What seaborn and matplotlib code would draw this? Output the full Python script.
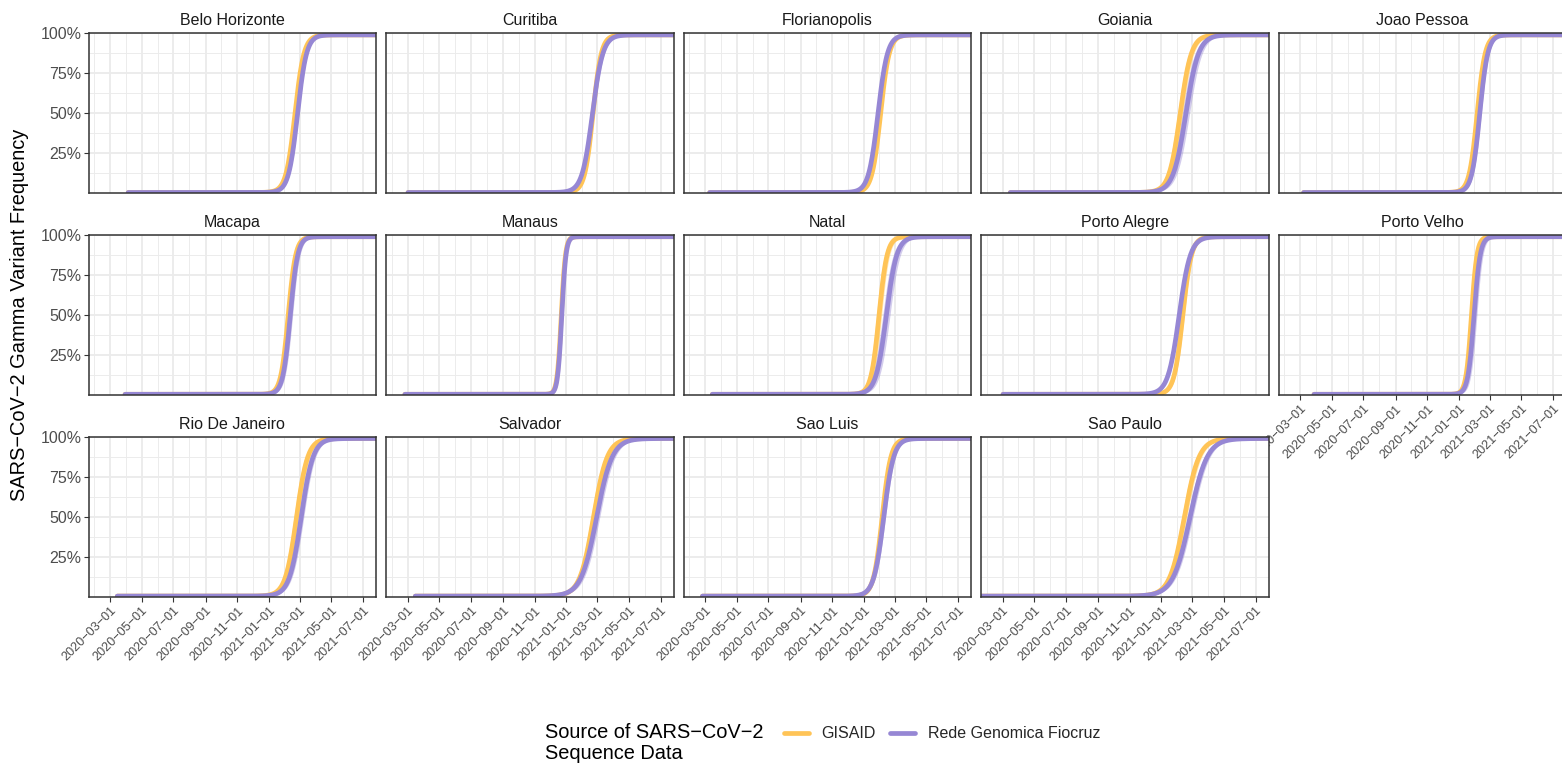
import numpy as np
import pandas as pd
import matplotlib
matplotlib.use("Agg")
import matplotlib.pyplot as plt
import matplotlib.dates as mdates
from matplotlib.ticker import FixedLocator, FixedFormatter, NullFormatter
from matplotlib.lines import Line2D
import seaborn as sns

# ---------------------------------------------------------------- data
cities = ["Belo Horizonte", "Curitiba", "Florianopolis", "Goiania", "Joao Pessoa",
          "Macapa", "Manaus", "Natal", "Porto Alegre", "Porto Velho",
          "Rio De Janeiro", "Salvador", "Sao Luis", "Sao Paulo"]

# first day of each city's fitted series
series_start = ["2020-04-05", "2020-03-02", "2020-03-10", "2020-03-16", "2020-03-08",
                "2020-03-30", "2020-02-25", "2020-03-15", "2020-03-02", "2020-03-28",
                "2020-03-15", "2020-03-16", "2020-02-25", "2020-01-20"]

# logistic fits: date at which Gamma reaches 50 %, daily growth rate,
# and half-width (days) of the uncertainty band
gisaid_mid = ["2021-02-20", "2021-02-21", "2021-02-02", "2021-02-06", "2021-02-05",
              "2021-02-07", "2020-12-22", "2021-01-30", "2021-02-11", "2021-01-25",
              "2021-02-23", "2021-02-22", "2021-02-05", "2021-02-14"]
gisaid_rate = [0.115, 0.125, 0.12, 0.093, 0.13,
               0.14, 0.25, 0.13, 0.12, 0.19,
               0.093, 0.076, 0.12, 0.071]
gisaid_spread = [2.5, 2.5, 2.0, 5.0, 2.5,
                 3.0, 1.2, 5.0, 3.0, 3.0,
                 5.0, 5.0, 3.0, 5.0]

rede_mid = ["2021-02-25", "2021-02-20", "2021-01-28", "2021-02-17", "2021-02-10",
            "2021-02-11", "2020-12-23", "2021-02-13", "2021-02-04", "2021-01-30",
            "2021-03-04", "2021-02-28", "2021-02-08", "2021-02-25"]
rede_rate = [0.115, 0.10, 0.11, 0.082, 0.13,
             0.14, 0.25, 0.10, 0.093, 0.17,
             0.088, 0.067, 0.105, 0.061]
rede_spread = [2.5, 3.0, 2.0, 7.0, 3.0,
               4.5, 1.2, 7.0, 2.5, 5.5,
               5.0, 6.0, 3.5, 5.5]

sources = ["GISAID", "Rede Genomica Fiocruz"]
line_colors = ["#FFC457", "#9687D4"]
band_colors = ["#FFC457", "#9687D4"]

x_window = ["2020-01-20", "2021-07-26"]
x_breaks = ["2020-03-01", "2020-05-01", "2020-07-01", "2020-09-01", "2020-11-01",
            "2021-01-01", "2021-03-01", "2021-05-01", "2021-07-01"]
x_labels = [b.replace("-", "\u2212") for b in x_breaks]
y_breaks = [0.25, 0.50, 0.75, 1.00]
y_labels = ["25%", "50%", "75%", "100%"]
y_minor = [0.125, 0.375, 0.625, 0.875]
floor_level, ceiling_level = 0.005, 0.99

y_title = "SARS\u2212CoV\u22122 Gamma Variant Frequency"
legend_title = ["Source of SARS\u2212CoV\u22122", "Sequence Data"]


def logistic(days, mid, rate):
    return floor_level + (ceiling_level - floor_level) / (1.0 + np.exp(-rate * (days - mid)))


# long table: one row per city / source / day
rows = []
end = pd.Timestamp(x_window[1])
for i, city in enumerate(cities):
    dates = pd.date_range(series_start[i], end, freq="D")
    days = (dates - pd.Timestamp("2021-01-01")).days.values.astype(float)
    fits = [(gisaid_mid[i], gisaid_rate[i], gisaid_spread[i]),
            (rede_mid[i], rede_rate[i], rede_spread[i])]
    for src, (mid, rate, spread) in zip(sources, fits):
        m = (pd.Timestamp(mid) - pd.Timestamp("2021-01-01")).days
        rows.append(pd.DataFrame({
            "city": city, "source": src, "date": dates,
            "freq": logistic(days, m, rate),
            "lo": logistic(days, m + spread, rate),
            "hi": logistic(days, m - spread, rate),
        }))
df = pd.concat(rows, ignore_index=True)

# ---------------------------------------------------------------- style
sns.set_theme(style="white")
plt.rcParams["font.family"] = ["Liberation Sans", "DejaVu Sans"]

W, H = 1562, 763
fig = plt.figure(figsize=(W / 100, H / 100), dpi=100)

PW, PH = 287.3, 160.0
col_left = [88.7 + c * 297.5 for c in range(5)]
row_top = [33.3, 235.1, 436.9]

palette = dict(zip(sources, line_colors))
bands = dict(zip(sources, band_colors))

xmaj = [mdates.date2num(pd.Timestamp(b)) for b in x_breaks]
xmin_breaks = [mdates.date2num(pd.Timestamp("2020-01-31"))]
xmin_breaks += [(a + b) / 2 for a, b in zip(xmaj[:-1], xmaj[1:])]
xlim = [mdates.date2num(pd.Timestamp(d)) for d in x_window]

n = len(cities)
for i, city in enumerate(cities):
    r, c = divmod(i, 5)
    ax = fig.add_axes([col_left[c] / W, 1 - (row_top[r] + PH) / H, PW / W, PH / H])
    sub = df[df["city"] == city]

    for src in sources:
        s = sub[sub["source"] == src]
        ax.fill_between(s["date"], s["lo"], s["hi"], color=bands[src],
                        alpha=0.42, lw=0, zorder=2)
        sns.lineplot(data=s, x="date", y="freq", color=palette[src], lw=3.4,
                     ax=ax, legend=False, zorder=3, estimator=None)

    ax.set_xlim(*xlim)
    ax.set_ylim(0, 1)
    ax.set_xlabel("")
    ax.set_ylabel("")

    ax.xaxis.set_major_locator(FixedLocator(xmaj))
    ax.xaxis.set_minor_locator(FixedLocator(xmin_breaks))
    ax.yaxis.set_major_locator(FixedLocator(y_breaks))
    ax.yaxis.set_minor_locator(FixedLocator(y_minor))

    ax.grid(which="major", color="#EBEBEB", lw=1.3, zorder=0)
    ax.grid(which="minor", color="#EBEBEB", lw=0.65, zorder=0)
    ax.set_axisbelow(True)
    for sp in ax.spines.values():
        sp.set_color("#333333")
        sp.set_linewidth(1.1)
        sp.set_zorder(5)

    bottom_row = (i + 5 >= n)
    first_col = (c == 0)

    if bottom_row:
        ax.xaxis.set_major_formatter(FixedFormatter(x_labels))
        ax.tick_params(axis="x", which="major", length=3.6, width=0.8, color="#333333",
                       pad=2, labelsize=9.1, labelcolor="#4D4D4D", bottom=True)
        for lab in ax.get_xticklabels():
            lab.set_rotation(45)
            lab.set_ha("right")
            lab.set_va("top")
            lab.set_rotation_mode("anchor")
    else:
        ax.xaxis.set_major_formatter(NullFormatter())
        ax.tick_params(axis="x", which="major", length=0, bottom=False)
    ax.tick_params(axis="x", which="minor", length=0)

    if first_col:
        ax.yaxis.set_major_formatter(FixedFormatter(y_labels))
        ax.tick_params(axis="y", which="major", length=3.6, width=0.8, color="#333333",
                       pad=1.6, labelsize=11.5, labelcolor="#4D4D4D", left=True)
    else:
        ax.yaxis.set_major_formatter(NullFormatter())
        ax.tick_params(axis="y", which="major", length=0, left=False)
    ax.tick_params(axis="y", which="minor", length=0)

    ax.set_title(city, fontsize=11.5, color="#1A1A1A", pad=6.0)

# shared y title
fig.text(20 / W, 1 - 314.6 / H, y_title, rotation=90, ha="center", va="center",
         fontsize=14.4, color="black")

# legend: title on the left, keys to its right
fig.text(545 / W, 1 - 738 / H, legend_title[0], ha="left", va="baseline",
         fontsize=14.4, color="black")
fig.text(545 / W, 1 - 759 / H, legend_title[1], ha="left", va="baseline",
         fontsize=14.4, color="black")
handles = [Line2D([0], [0], color=col, lw=3.4) for col in line_colors]
fig.legend(handles, sources, loc="center left", bbox_to_anchor=(784 / W, 1 - 734 / H),
           ncol=2, frameon=False, fontsize=11.5, handlelength=1.55, handletextpad=0.8,
           columnspacing=0.9, borderpad=0, borderaxespad=0)

fig.savefig("out.png", dpi=100, facecolor="white")
